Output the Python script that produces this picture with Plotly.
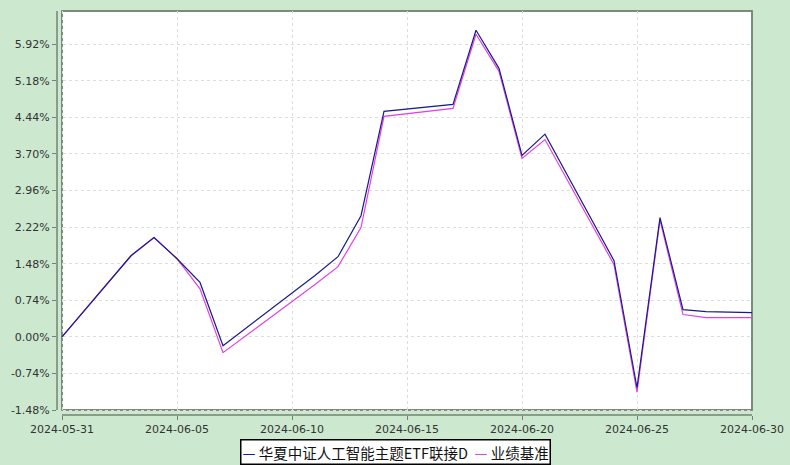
import plotly.graph_objects as go
from datetime import datetime, timedelta

dates = ["2024-05-31", "2024-06-03", "2024-06-04", "2024-06-05", "2024-06-06", "2024-06-07",
         "2024-06-11", "2024-06-12", "2024-06-13", "2024-06-14", "2024-06-17", "2024-06-18",
         "2024-06-19", "2024-06-20", "2024-06-21", "2024-06-24", "2024-06-25", "2024-06-26",
         "2024-06-27", "2024-06-28", "2024-06-30"]
fund = [0.00, 1.64, 2.01, 1.58, 1.10, -0.18,
        1.24, 1.62, 2.45, 4.56, 4.70, 6.20,
        5.43, 3.67, 4.10, 1.54, -1.03, 2.41,
        0.55, 0.51, 0.49]
bench = [0.00, 1.64, 2.01, 1.58, 0.97, -0.32,
         1.06, 1.42, 2.21, 4.46, 4.62, 6.12,
         5.37, 3.61, 3.99, 1.46, -1.12, 2.36,
         0.45, 0.39, 0.39]
fund_name = "华夏中证人工智能主题ETF联接D"
bench_name = "业绩基准"
y_ticks = [-1.48, -0.74, 0.00, 0.74, 1.48, 2.22, 2.96, 3.70, 4.44, 5.18, 5.92]
y_labels = ["-1.48%", "-0.74%", "0.00%", "0.74%", "1.48%", "2.22%", "2.96%", "3.70%", "4.44%", "5.18%", "5.92%"]
x_ticks = ["2024-05-31", "2024-06-05", "2024-06-10", "2024-06-15", "2024-06-20", "2024-06-25", "2024-06-30"]

fund_color = "#1a1a88"
bench_color = "#e040e8"

# geometry (pixels)
W, H = 790, 465
L_AX, R_PL, T_PL, B_PL, B_AX, L_PL = 57, 752, 11, 410, 415, 62
GAP = 5
plot_w = R_PL - L_AX
plot_h = B_AX - T_PL

x0 = datetime(2024, 5, 31)
x1 = datetime(2024, 6, 30)
px_per_sec = (R_PL - L_PL) / (x1 - x0).total_seconds()
x_start = x0 - timedelta(seconds=GAP / px_per_sec)

y_lo, y_hi = -1.48, 6.59
px_per_unit = (B_PL - T_PL) / (y_hi - y_lo)
y_start = y_lo - GAP / px_per_unit

fx = GAP / plot_w
fy = GAP / plot_h

fig = go.Figure()
fig.add_trace(go.Scatter(x=dates, y=bench, mode="lines", name=bench_name,
                         line=dict(color=bench_color, width=1.2)))
fig.add_trace(go.Scatter(x=dates, y=fund, mode="lines", name=fund_name,
                         line=dict(color=fund_color, width=1.2)))

bg = "#cce8cf"
axis_col = "#748474"
shapes = [
    dict(type="rect", xref="paper", yref="paper", x0=fx, x1=1, y0=fy, y1=1,
         fillcolor="#ffffff", line=dict(color=axis_col, width=1.5), layer="below"),
    dict(type="rect", xref="paper", yref="paper", x0=0.002, x1=fx - 0.0015, y0=0, y1=1,
         fillcolor=bg, line=dict(width=0), layer="between"),
    dict(type="rect", xref="paper", yref="paper", x0=0, x1=1, y0=0.003, y1=fy - 0.002,
         fillcolor=bg, line=dict(width=0), layer="between"),
    dict(type="rect", xref="paper", yref="paper", x0=fx, x1=1, y0=fy, y1=1,
         fillcolor="rgba(0,0,0,0)", line=dict(color=axis_col, width=1.5), layer="between"),
    dict(type="line", xref="paper", yref="paper", x0=0, x1=0, y0=fy, y1=1,
         line=dict(color=axis_col, width=1.5), layer="above"),
    dict(type="line", xref="paper", yref="paper", x0=fx, x1=1, y0=0, y1=0,
         line=dict(color=axis_col, width=1.5), layer="above"),
]

legend_text = (f"<span style='color:{fund_color}'>—</span>&nbsp;{fund_name}&nbsp; "
               f"<span style='color:{bench_color}'>—</span>&nbsp;{bench_name}")
annotations = [
    dict(text=legend_text, xref="paper", yref="paper",
         x=(395 - L_AX) / plot_w, y=(B_AX - 451.5) / plot_h,
         xanchor="center", yanchor="middle", showarrow=False,
         font=dict(family="Noto Sans CJK SC, DejaVu Sans", size=14.5, color="#111111"),
         bgcolor="#ffffff", bordercolor="#000000", borderwidth=1.5, borderpad=1),
]

fig.update_layout(
    width=W, height=H,
    paper_bgcolor=bg, plot_bgcolor=bg,
    margin=dict(l=L_AX, r=W - R_PL, t=T_PL, b=H - B_AX, autoexpand=False),
    font=dict(family="DejaVu Sans, Noto Sans CJK SC", size=11, color="#333333"),
    showlegend=False,
    shapes=shapes,
    annotations=annotations,
    xaxis=dict(type="date", range=[x_start, x1], tickvals=x_ticks, ticktext=x_ticks,
               showgrid=True, gridcolor="#dddddd", griddash="3px,3px", gridwidth=1,
               showline=False, automargin=False,
               ticks="outside", ticklen=4, tickcolor=axis_col, tickwidth=1, zeroline=False),
    yaxis=dict(range=[y_start, y_hi], tickvals=y_ticks, ticktext=y_labels,
               showgrid=True, gridcolor="#dddddd", griddash="3px,3px", gridwidth=1,
               showline=False, automargin=False,
               ticks="outside", ticklen=4, tickcolor=axis_col, tickwidth=1, zeroline=False),
)

fig.write_html("out.html", config={"displayModeBar": False},
               post_script="document.body.style.margin='0';document.body.style.padding='0';")
